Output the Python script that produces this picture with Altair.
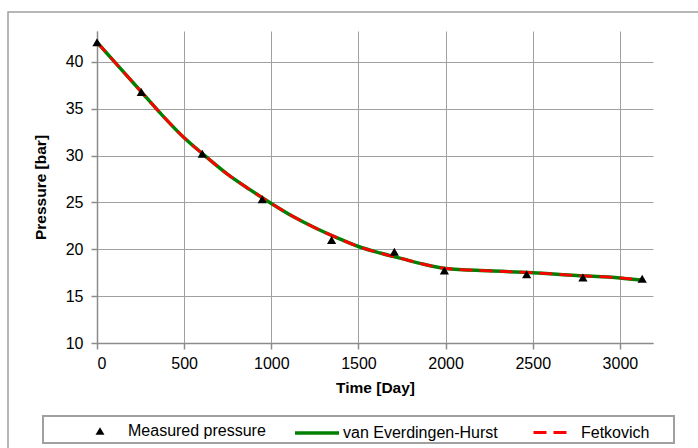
import altair as alt
import pandas as pd

# Measured data
t_meas = [0, 254, 604, 948, 1346, 1706, 1993, 2465, 2788, 3128]
p_meas = [42.1, 36.8, 30.2, 25.35, 21.0, 19.75, 17.75, 17.35, 17.0, 16.85]

# Model curves
t_model = [0, 125, 250, 375, 500, 625, 750, 875, 1000, 1125, 1250, 1375, 1500,
           1625, 1750, 1875, 2000, 2250, 2500, 2750, 3000, 3130]
p_veh = [42.1, 39.5, 36.9, 34.3, 31.9, 29.9, 28.0, 26.4, 24.9, 23.5, 22.3, 21.25,
         20.3, 19.6, 19.0, 18.4, 17.95, 17.7, 17.5, 17.2, 16.95, 16.7]
p_fet = [42.1, 39.5, 36.9, 34.3, 31.9, 29.9, 28.0, 26.4, 24.9, 23.5, 22.3, 21.25,
         20.3, 19.6, 19.0, 18.4, 17.95, 17.7, 17.5, 17.2, 16.95, 16.7]

x_ticks = [0, 500, 1000, 1500, 2000, 2500, 3000]
y_ticks = [10, 15, 20, 25, 30, 35, 40]

series = ["Measured pressure", "van Everdingen-Hurst", "Fetkovich"]

meas = pd.DataFrame({"t": t_meas, "p": p_meas, "s": series[0]})
veh = pd.DataFrame({"t": t_model, "p": p_veh, "s": series[1]})
fet = pd.DataFrame({"t": t_model, "p": p_fet, "s": series[2]})
one = pd.DataFrame({"a": [0]})

FONT = "Liberation Sans"
FS = 16
W, H = 556, 312
LEG_C = 400  # legend row centre in plot coordinates

X = alt.X("t:Q", scale=alt.Scale(domain=[0, 3190], nice=False, zero=False),
          axis=alt.Axis(values=x_ticks, title="Time [Day]", labelPadding=6,
                        titlePadding=9, format="d"))
Y = alt.Y("p:Q", scale=alt.Scale(domain=[10, 43.3], nice=False, zero=False),
          axis=alt.Axis(values=y_ticks, title="Pressure [bar]", labelPadding=8,
                        titlePadding=17, format="d"))

outer = alt.Chart(one).mark_rect(fillOpacity=0, stroke="#a0a0a0", strokeWidth=1.5).encode(
    x=alt.value(-89), x2=alt.value(620), y=alt.value(-19), y2=alt.value(430))
legbox = alt.Chart(one).mark_rect(fill="white", stroke="#a0a0a0", strokeWidth=2).encode(
    x=alt.value(-54), x2=alt.value(577), y=alt.value(385), y2=alt.value(412))

line_veh = alt.Chart(veh).mark_line(strokeWidth=3.5, interpolate="monotone").encode(
    x=X, y=Y,
    color=alt.Color("s:N", scale=alt.Scale(domain=[series[1]], range=["#008000"]),
                    legend=alt.Legend(orient="none", legendX=196, legendY=LEG_C - 22, title=None,
                                      symbolType="stroke", symbolSize=1936,
                                      symbolStrokeWidth=3.5, labelOffset=2, padding=0,
                                      labelFontSize=FS, labelFont=FONT, labelColor="#000")))

line_fet = alt.Chart(fet).mark_line(color="#ff0000", strokeWidth=2.8, interpolate="monotone").encode(
    x=X, y=Y,
    strokeDash=alt.StrokeDash("s:N", scale=alt.Scale(domain=[series[2]], range=[[13, 7]]),
                              legend=alt.Legend(orient="none", legendX=435, legendY=LEG_C - 16.5,
                                                title=None,
                                                symbolType="stroke", symbolSize=1089,
                                                symbolStrokeColor="#ff0000",
                                                symbolStrokeWidth=3, labelOffset=13, padding=0,
                                                labelFontSize=FS, labelFont=FONT,
                                                labelColor="#000")))

points = alt.Chart(meas).mark_point(filled=True, color="black", size=85, opacity=1).encode(
    x=X, y=Y,
    shape=alt.Shape("s:N", scale=alt.Scale(domain=[series[0]], range=["triangle-up"]),
                    legend=alt.Legend(orient="none", legendX=-5, legendY=LEG_C - 8, title=None,
                                      symbolFillColor="black", symbolStrokeColor="black",
                                      symbolSize=80, labelOffset=20, padding=0,
                                      labelFontSize=FS, labelFont=FONT, labelColor="#000")))

chart = alt.layer(outer, legbox, line_veh, line_fet, points).resolve_scale(
    color="independent", shape="independent", strokeDash="independent"
).properties(
    width=W, height=H,
    autosize=alt.AutoSizeParams(type="none"),
    padding={"left": 97, "top": 31, "right": 45, "bottom": 105},
).configure_view(stroke="transparent").configure_axis(
    labelFont=FONT, labelFontSize=FS, labelColor="#000",
    titleFont=FONT, titleFontSize=15.5, titleFontWeight="bold", titleColor="#000",
    gridColor="#a0a0a0", gridWidth=1, domainColor="#8c8c8c", domainWidth=1.5,
    tickColor="#8c8c8c", tickSize=6, tickWidth=1.5,
)

chart.save("out.html", embed_options={"renderer": "svg", "actions": False})
